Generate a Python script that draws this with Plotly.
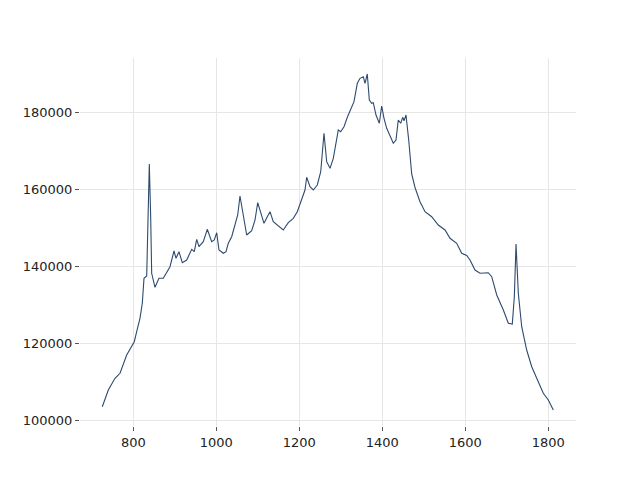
import plotly.graph_objects as go

wavenumber = [725.3, 739.8, 755.9, 768.0, 784.1, 796.1, 802.4, 808.2, 816.1, 821.7,
              825.8, 832.3, 836.1, 838.6, 841.9, 844.3, 852.3, 861.9, 872.3, 880.5,
              888.4, 898.1, 902.9, 910.1, 918.1, 928.7, 940.7, 947.0, 952.8, 958.3,
              968.7, 978.3, 988.9, 995.2, 1001.0, 1006.5, 1016.9, 1023.4, 1028.9, 1037.1,
              1045.1, 1051.6, 1057.1, 1065.1, 1073.2, 1085.3, 1093.3, 1099.8, 1107.0, 1114.9,
              1122.9, 1129.4, 1137.3, 1149.4, 1161.4, 1173.5, 1185.5, 1195.2, 1205.8, 1213.7,
              1217.8, 1225.8, 1233.7, 1243.4, 1251.6, 1259.5, 1266.0, 1274.0, 1281.9, 1287.7,
              1294.0, 1299.7, 1307.7, 1315.7, 1323.8, 1331.8, 1339.8, 1346.3, 1354.2, 1358.3,
              1363.8, 1368.7, 1374.4, 1378.3, 1384.8, 1392.8, 1398.5, 1404.1, 1410.6, 1418.5,
              1426.5, 1433.0, 1438.5, 1444.3, 1449.1, 1452.3, 1457.1, 1463.6, 1470.8, 1478.8,
              1490.8, 1502.9, 1519.0, 1534.9, 1551.1, 1563.1, 1579.3, 1591.3, 1603.4, 1611.3,
              1623.4, 1635.4, 1655.4, 1663.6, 1675.7, 1691.6, 1703.6, 1713.2, 1718.1, 1722.2,
              1727.7, 1735.9, 1747.9, 1760.0, 1772.0, 1787.9, 1800.0, 1812.0]

intensity = [103636, 107974, 111013, 112312, 117065, 119221, 120519, 123117, 126597, 130493,
             136987, 137584, 152987, 166675, 152987, 138286, 134649, 136987, 136987, 138442,
             140000, 144078, 142182, 143896, 141039, 141740, 144519, 143896, 147117, 145195,
             146493, 149714, 146493, 146935, 148831, 144338, 143480, 143896, 146078, 147792,
             150831, 153429, 158364, 152779, 148234, 149351, 152130, 156623, 153870, 151273,
             152987, 154286, 151688, 150571, 149533, 151429, 152571, 154286, 157325, 159922,
             163221, 160779, 159922, 161221, 164675, 174649, 167273, 165558, 168156, 172052,
             175506, 175065, 176364, 178805, 180701, 182857, 187636, 188935, 189351, 187636,
             190052, 183299, 182442, 182597, 179403, 177247, 181740, 178545, 175948, 174208,
             172052, 172909, 178104, 177247, 178805, 177922, 179403, 172909, 164078, 160571,
             156883, 154286, 152987, 150831, 149533, 147377, 146078, 143480, 142909, 141740,
             139143, 138286, 138442, 137403, 132649, 128753, 125299, 125117, 132208, 145896,
             133091, 124416, 118364, 114026, 111013, 107117, 105377, 102779]

x_ticks = [800, 1000, 1200, 1400, 1600, 1800]
y_ticks = [100000, 120000, 140000, 160000, 180000]

fig = go.Figure()
fig.add_trace(go.Scatter(x=wavenumber, y=intensity, mode="lines",
                         line=dict(color="#2e4a6e", width=1.1), showlegend=False))

axis_common = dict(showgrid=True, gridcolor="#e6e6e6", gridwidth=1, zeroline=False,
                   showline=False, ticks="outside", ticklen=4, tickwidth=1,
                   tickcolor="#555555", automargin=False,
                   tickfont=dict(family="DejaVu Sans", size=13, color="#222222"))

fig.update_layout(
    width=632, height=472,
    margin=dict(l=72, r=64, t=50, b=54),
    paper_bgcolor="white", plot_bgcolor="white",
    xaxis=dict(range=[671.6, 1866.7], tickvals=x_ticks, ticktext=[str(v) for v in x_ticks], **axis_common),
    yaxis=dict(range=[98623, 194208], tickvals=y_ticks, ticktext=[str(v) for v in y_ticks], **axis_common),
)

fig.write_html("out.html")
